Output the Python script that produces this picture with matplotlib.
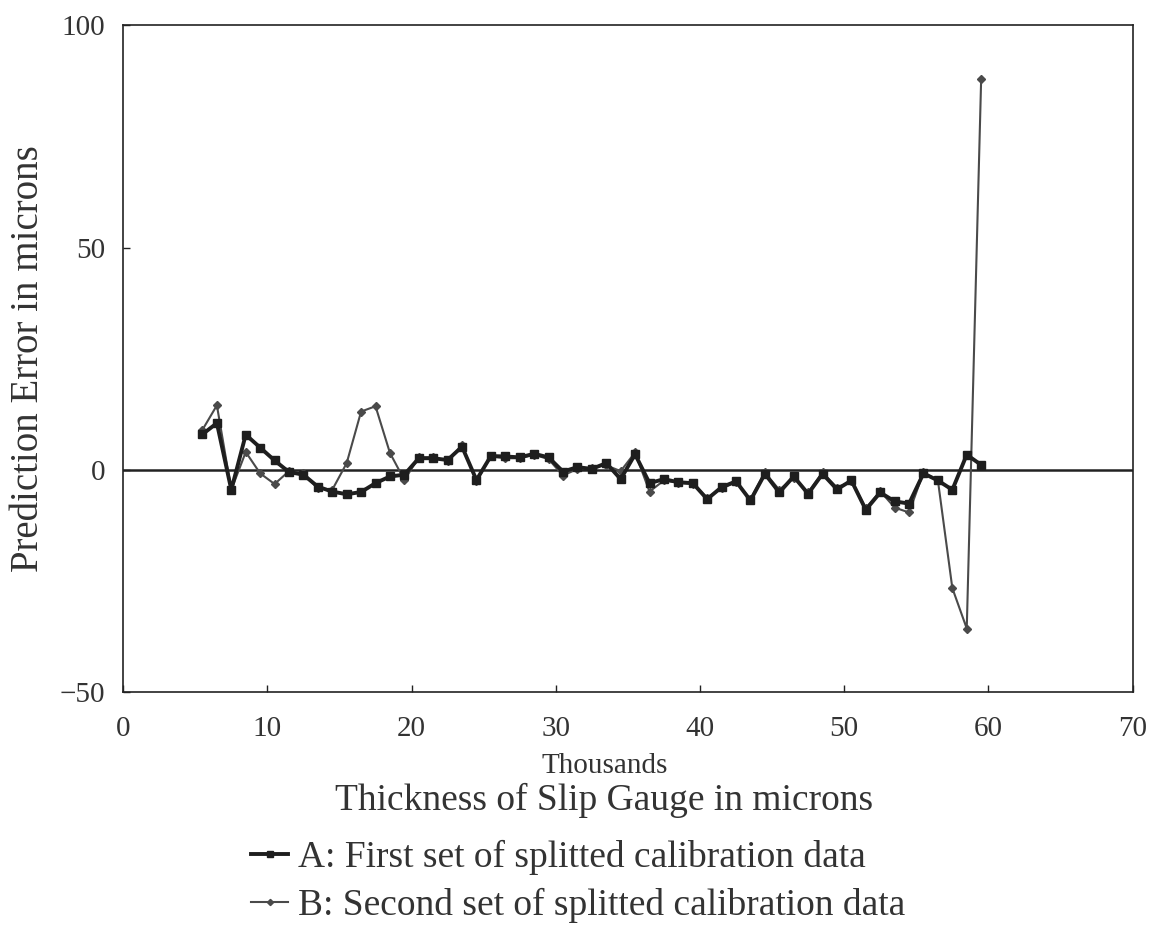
import matplotlib
matplotlib.use("Agg")
import matplotlib.pyplot as plt

# gauge thickness (thousands of microns)
thickness = [5.5, 6.5, 7.5, 8.5, 9.5, 10.5, 11.5, 12.5, 13.5, 14.5,
             15.5, 16.5, 17.5, 18.5, 19.5, 20.5, 21.5, 22.5, 23.5, 24.5,
             25.5, 26.5, 27.5, 28.5, 29.5, 30.5, 31.5, 32.5, 33.5, 34.5,
             35.5, 36.5, 37.5, 38.5, 39.5, 40.5, 41.5, 42.5, 43.5, 44.5,
             45.5, 46.5, 47.5, 48.5, 49.5, 50.5, 51.5, 52.5, 53.5, 54.5,
             55.5, 56.5, 57.5, 58.5, 59.5]

# prediction error (microns), set A
err_a = [8.0, 10.5, -4.5, 7.9, 5.0, 2.1, -0.5, -1.1, -3.8, -4.9,
         -5.5, -5.0, -3.0, -1.5, -1.1, 2.6, 2.6, 2.2, 5.2, -2.3,
         3.1, 3.0, 2.8, 3.6, 2.8, -0.4, 0.6, 0.2, 1.5, -2.1,
         3.5, -3.0, -2.1, -2.8, -3.0, -6.6, -3.9, -2.6, -6.9, -0.9,
         -5.1, -1.5, -5.4, -0.9, -4.4, -2.4, -9.0, -5.1, -7.1, -7.6,
         -0.8, -2.4, -4.5, 3.4, 1.1]

# prediction error (microns), set B
err_b = [9.0, 14.5, -4.5, 4.0, -0.8, -3.2, -0.3, -0.8, -4.2, -4.5,
         1.5, 13.1, 14.3, 3.8, -2.3, 2.8, 2.8, 2.0, 5.5, -2.6,
         3.0, 2.6, 2.6, 3.4, 2.4, -1.3, 0.2, 0.5, 1.0, -0.3,
         3.9, -4.9, -2.4, -2.9, -3.2, -6.3, -4.2, -2.8, -6.6, -0.6,
         -4.5, -1.8, -5.1, -0.6, -4.0, -2.6, -8.6, -4.8, -8.5, -9.6,
         -0.6, -2.4, -26.6, -35.7, 88.0]

label_a = "A: First set of splitted calibration data"
label_b = "B: Second set of splitted calibration data"

plt.rcParams['font.family'] = ['Liberation Serif', 'DejaVu Serif']

fig = plt.figure(figsize=(11.51, 9.34), dpi=100)
ax = fig.add_axes([0.107, 0.259, 0.877, 0.714])

ax.axhline(0, color='#222222', lw=1.8, zorder=1)
line_a, = ax.plot(thickness, err_a, color='#1e1e1e', lw=2.8, marker='s',
                  ms=5.5, mfc='#1e1e1e', mec='#1e1e1e', zorder=3)
line_b, = ax.plot(thickness, err_b, color='#4a4a4a', lw=1.5, marker='D',
                  ms=4.5, mfc='#4a4a4a', mec='#4a4a4a', zorder=2)

ax.set_xlim(0, 70)
ax.set_ylim(-50, 100)
ax.set_xticks(range(0, 71, 10))
ax.set_yticks([-50, 0, 50, 100])
ax.tick_params(direction='in', length=5, width=1, labelsize=21,
               colors='#222222', labelcolor='#333333')
ax.tick_params(axis='x', pad=17)
ax.tick_params(axis='y', pad=13)
for s in ax.spines.values():
    s.set_color('#222222')
    s.set_linewidth(1.2)

ax.set_ylabel("Prediction Error in microns", fontsize=28, color='#333333',
              labelpad=9)
fig.text(0.525, 0.180, "Thousands", ha='center', va='center', fontsize=21,
         color='#333333')
fig.text(0.525, 0.143, "Thickness of Slip Gauge in microns", ha='center',
         va='center', fontsize=27, color='#333333')

fig.legend([line_a, line_b], [label_a, label_b], loc='upper left',
           bbox_to_anchor=(0.205, 0.117), frameon=False, fontsize=27,
           handlelength=1.0, handletextpad=0.25, labelspacing=0.35,
           borderaxespad=0, markerscale=0.7, labelcolor='#333333')

fig.savefig("out.png", dpi=100)
